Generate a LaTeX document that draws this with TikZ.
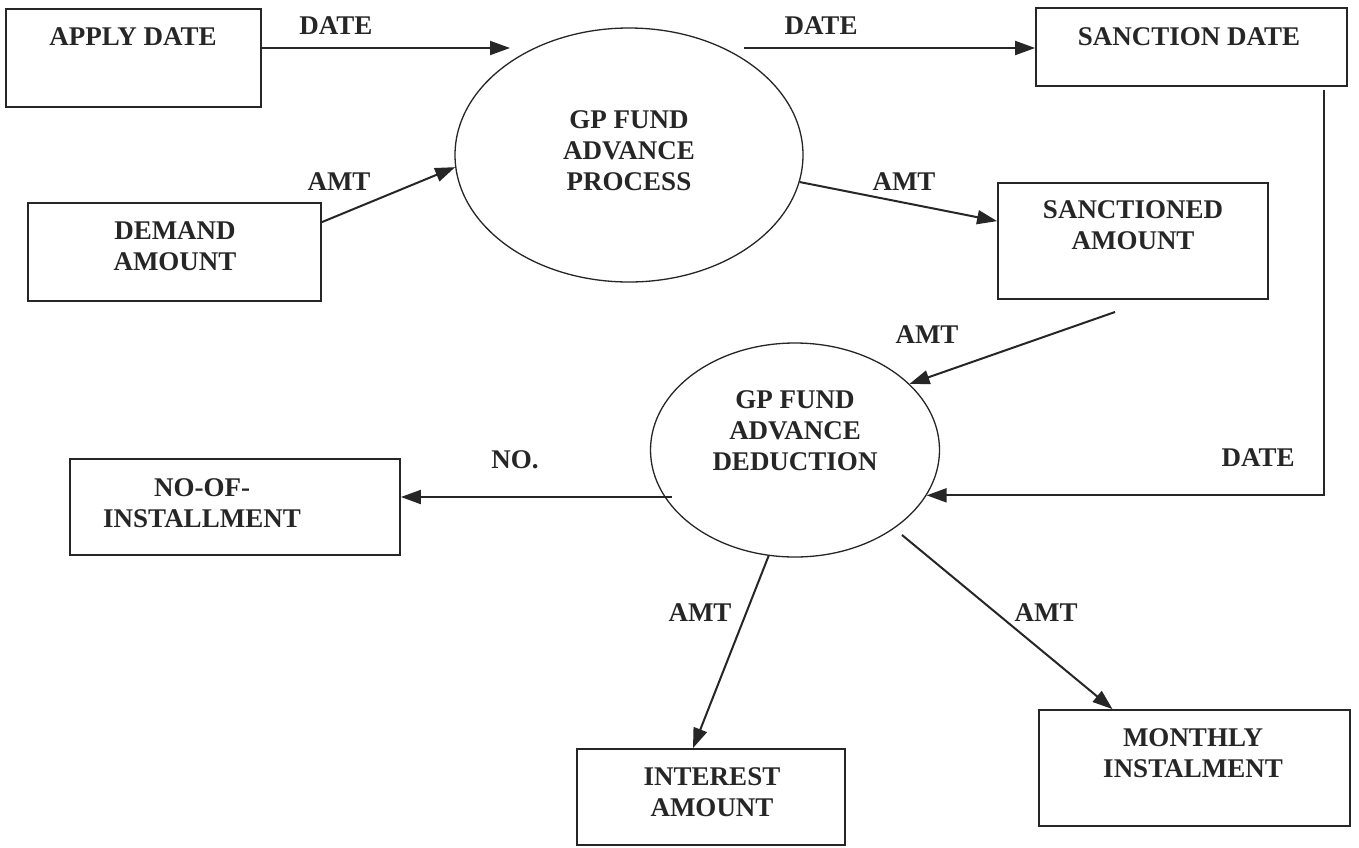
\documentclass[tikz,border=0pt]{standalone}
\usepackage{fontspec}
\setmainfont{Liberation Serif}
\usetikzlibrary{arrows.meta,shapes.geometric,fit}
\definecolor{ink}{HTML}{262626}
\begin{document}
\begin{tikzpicture}[x=0.5pt,y=-0.5pt,
  box/.style={draw=ink, line width=0.9pt, inner sep=0pt},
  proc/.style={draw=ink, ellipse, line width=0.65pt, inner sep=0pt},
  txt/.style={text=ink, font=\fontsize{13.5}{15.5}\selectfont\bfseries, align=center, inner sep=0pt},
  flow/.style={draw=ink, line width=1pt, -{Triangle[length=10pt,width=7pt]}}]

% page
\fill[white] (0,0) rectangle (1359,847);
\useasboundingbox (0,0) rectangle (1359,847);

% data stores / entities
\node[box, fit={(6,9) (261,107)}]      (apply)  {};
\node[box, fit={(28,203) (321,301)}]   (demand) {};
\node[box, fit={(1036,8) (1347,86)}]   (sdate)  {};
\node[box, fit={(998,183) (1268,299)}] (samt)   {};
\node[box, fit={(70,459) (400,555)}]   (noof)   {};
\node[box, fit={(577,749) (845,845)}]  (intr)   {};
\node[box, fit={(1039,710) (1350,826)}] (mon)   {};

% processes
\node[proc, minimum width=174pt, minimum height=127pt] (p1) at (629,155) {};
\node[proc, minimum width=144.5pt, minimum height=107pt] (p2) at (795,450) {};

% box and process texts
\node[txt] (applyT)  at (133,37)   {APPLY DATE};
\node[txt] (demandT) at (175,246)  {DEMAND\\AMOUNT};
\node[txt] (sdateT)  at (1189,37)  {SANCTION DATE};
\node[txt] (samtT)   at (1133,225) {SANCTIONED\\AMOUNT};
\node[txt] (noofT)   at (202,503)  {NO-OF-\\INSTALLMENT};
\node[txt] (intrT)   at (712,792)  {INTEREST\\AMOUNT};
\node[txt] (monT)    at (1193,753) {MONTHLY\\INSTALMENT};
\node[txt] (p1T)     at (629,151)  {GP FUND\\ADVANCE\\PROCESS};
\node[txt] (p2T)     at (795,431)  {GP FUND\\ADVANCE\\DEDUCTION};

% flow labels
\node[txt] (l1) at (336,26)   {DATE};
\node[txt] (l2) at (339,182)  {AMT};
\node[txt] (l3) at (821,26)   {DATE};
\node[txt] (l4) at (904,182)  {AMT};
\node[txt] (l5) at (927,335)  {AMT};
\node[txt] (l6) at (1258,458) {DATE};
\node[txt] (l7) at (515,460)  {NO.};
\node[txt] (l8) at (700,613)  {AMT};
\node[txt] (l9) at (1046,613) {AMT};

% free ends of flows
\coordinate (t1) at (510,48);
\coordinate (s3) at (744,48);
\coordinate (s5) at (1115,312);
\coordinate (s7) at (672,497);
\coordinate (s9) at (902,535);

% flows
\draw[flow] (apply.east |- t1) -- (t1);
\draw[flow] ([yshift=-10pt]demand.north east) -- (p1.184);
\draw[flow] (s3) -- (sdate.west |- s3);
\draw[flow] (p1.-9) -- ([yshift=-19.5pt]samt.north west);
\draw[flow] (s5) -- (p2.30);
\draw[flow] ([xshift=-12pt,yshift=-1.5pt]sdate.south east) |- (p2.-19.9);
\draw[flow] (s7) -- (s7 -| noof.east);
\draw[flow] (p2.-104.8) -- ([xshift=-9pt]intr.north);
\draw[flow] (s9) -- ([xshift=-41pt]mon.north);
\end{tikzpicture}
\end{document}
